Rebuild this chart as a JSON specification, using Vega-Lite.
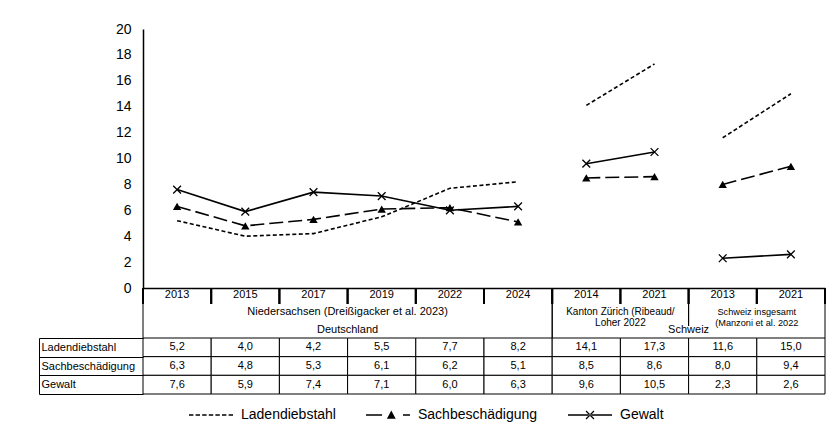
{
  "$schema": "https://vega.github.io/schema/vega-lite/v6.json",
  "padding": {"left": 38, "top": 22, "right": 5, "bottom": 5},
  "background": "white",
  "config": {
    "font": "Liberation Sans",
    "view": {"stroke": null},
    "locale": {"number": {"decimal": ",", "thousands": ".", "grouping": [3], "currency": ["", " €"]}}
  },
  "datasets": {
    "cols": [
      {"col": "Niedersachsen 2013", "year": "2013"},
      {"col": "Niedersachsen 2015", "year": "2015"},
      {"col": "Niedersachsen 2017", "year": "2017"},
      {"col": "Niedersachsen 2019", "year": "2019"},
      {"col": "Niedersachsen 2022", "year": "2022"},
      {"col": "Niedersachsen 2024", "year": "2024"},
      {"col": "Zürich 2014", "year": "2014"},
      {"col": "Zürich 2021", "year": "2021"},
      {"col": "Schweiz 2013", "year": "2013"},
      {"col": "Schweiz 2021", "year": "2021"}
    ],
    "vals": [
      {"col": "Niedersachsen 2013", "grp": "Niedersachsen", "series": "Ladendiebstahl", "value": 5.2},
      {"col": "Niedersachsen 2015", "grp": "Niedersachsen", "series": "Ladendiebstahl", "value": 4.0},
      {"col": "Niedersachsen 2017", "grp": "Niedersachsen", "series": "Ladendiebstahl", "value": 4.2},
      {"col": "Niedersachsen 2019", "grp": "Niedersachsen", "series": "Ladendiebstahl", "value": 5.5},
      {"col": "Niedersachsen 2022", "grp": "Niedersachsen", "series": "Ladendiebstahl", "value": 7.7},
      {"col": "Niedersachsen 2024", "grp": "Niedersachsen", "series": "Ladendiebstahl", "value": 8.2},
      {"col": "Zürich 2014", "grp": "Zürich", "series": "Ladendiebstahl", "value": 14.1},
      {"col": "Zürich 2021", "grp": "Zürich", "series": "Ladendiebstahl", "value": 17.3},
      {"col": "Schweiz 2013", "grp": "Schweiz", "series": "Ladendiebstahl", "value": 11.6},
      {"col": "Schweiz 2021", "grp": "Schweiz", "series": "Ladendiebstahl", "value": 15.0},
      {"col": "Niedersachsen 2013", "grp": "Niedersachsen", "series": "Sachbeschädigung", "value": 6.3},
      {"col": "Niedersachsen 2015", "grp": "Niedersachsen", "series": "Sachbeschädigung", "value": 4.8},
      {"col": "Niedersachsen 2017", "grp": "Niedersachsen", "series": "Sachbeschädigung", "value": 5.3},
      {"col": "Niedersachsen 2019", "grp": "Niedersachsen", "series": "Sachbeschädigung", "value": 6.1},
      {"col": "Niedersachsen 2022", "grp": "Niedersachsen", "series": "Sachbeschädigung", "value": 6.2},
      {"col": "Niedersachsen 2024", "grp": "Niedersachsen", "series": "Sachbeschädigung", "value": 5.1},
      {"col": "Zürich 2014", "grp": "Zürich", "series": "Sachbeschädigung", "value": 8.5},
      {"col": "Zürich 2021", "grp": "Zürich", "series": "Sachbeschädigung", "value": 8.6},
      {"col": "Schweiz 2013", "grp": "Schweiz", "series": "Sachbeschädigung", "value": 8.0},
      {"col": "Schweiz 2021", "grp": "Schweiz", "series": "Sachbeschädigung", "value": 9.4},
      {"col": "Niedersachsen 2013", "grp": "Niedersachsen", "series": "Gewalt", "value": 7.6},
      {"col": "Niedersachsen 2015", "grp": "Niedersachsen", "series": "Gewalt", "value": 5.9},
      {"col": "Niedersachsen 2017", "grp": "Niedersachsen", "series": "Gewalt", "value": 7.4},
      {"col": "Niedersachsen 2019", "grp": "Niedersachsen", "series": "Gewalt", "value": 7.1},
      {"col": "Niedersachsen 2022", "grp": "Niedersachsen", "series": "Gewalt", "value": 6.0},
      {"col": "Niedersachsen 2024", "grp": "Niedersachsen", "series": "Gewalt", "value": 6.3},
      {"col": "Zürich 2014", "grp": "Zürich", "series": "Gewalt", "value": 9.6},
      {"col": "Zürich 2021", "grp": "Zürich", "series": "Gewalt", "value": 10.5},
      {"col": "Schweiz 2013", "grp": "Schweiz", "series": "Gewalt", "value": 2.3},
      {"col": "Schweiz 2021", "grp": "Schweiz", "series": "Gewalt", "value": 2.6}
    ],
    "groups": [
      {"grp": "Niedersachsen", "first": "Niedersachsen 2013", "last": "Niedersachsen 2024"},
      {"grp": "Zürich", "first": "Zürich 2014", "last": "Zürich 2021"},
      {"grp": "Schweiz", "first": "Schweiz 2013", "last": "Schweiz 2021"}
    ],
    "countries": [
      {"country": "Deutschland", "first": "Niedersachsen 2013", "last": "Niedersachsen 2024", "anchor": "Niedersachsen 2019"},
      {"country": "Schweiz", "first": "Zürich 2014", "last": "Schweiz 2021", "anchor": "Schweiz 2013"}
    ],
    "grouplabels": [
      {"grp": "Niedersachsen", "anchor": "Niedersachsen 2019", "line": "1", "text": "Niedersachsen (Dreißigacker et al. 2023)"},
      {"grp": "Zürich", "anchor": "Zürich 2021", "line": "1", "text": "Kanton Zürich (Ribeaud/"},
      {"grp": "Zürich", "anchor": "Zürich 2021", "line": "2", "text": "Loher 2022"},
      {"grp": "Schweiz", "anchor": "Schweiz 2021", "line": "1", "text": "Schweiz insgesamt"},
      {"grp": "Schweiz", "anchor": "Schweiz 2021", "line": "2", "text": "(Manzoni et al. 2022"}
    ]
  },
  "spacing": 0,
  "bounds": "flush",
  "resolve": {"scale": {"shape": "independent"}, "legend": {"shape": "independent"}},
  "vconcat": [
    {
      "width": 682,
      "height": 259,
      "data": {"name": "vals"},
      "encoding": {
        "x": {"field": "col", "type": "nominal", "scale": {"type": "band", "padding": 0, "domain": ["Niedersachsen 2013", "Niedersachsen 2015", "Niedersachsen 2017", "Niedersachsen 2019", "Niedersachsen 2022", "Niedersachsen 2024", "Zürich 2014", "Zürich 2021", "Schweiz 2013", "Schweiz 2021"]}, "axis": {"labels": false, "ticks": false, "domain": true, "domainColor": "black", "domainWidth": 1.5, "title": null, "grid": false}},
        "y": {"field": "value", "type": "quantitative", "scale": {"domain": [0, 20], "nice": false}, "axis": {"values": [0, 2, 4, 6, 8, 10, 12, 14, 16, 18, 20], "format": "d", "title": null, "grid": false, "ticks": false, "labelPadding": 12, "labelFontSize": 14, "labelColor": "black", "domainColor": "black", "domainWidth": 1.5}}
      },
      "layer": [
        {"transform": [{"filter": "datum.series === 'Ladendiebstahl'"}], "mark": {"type": "line", "color": "black", "strokeWidth": 1.6, "strokeDash": [4, 2.5]}, "encoding": {"detail": {"field": "grp"}}},
        {"transform": [{"filter": "datum.series === 'Sachbeschädigung'"}], "mark": {"type": "line", "color": "black", "strokeWidth": 1.6, "strokeDash": [14, 5]}, "encoding": {"detail": {"field": "grp"}}},
        {"transform": [{"filter": "datum.series === 'Gewalt'"}], "mark": {"type": "line", "color": "black", "strokeWidth": 1.6}, "encoding": {"detail": {"field": "grp"}}},
        {"transform": [{"filter": "datum.series === 'Sachbeschädigung'"}], "mark": {"type": "point", "shape": "triangle-up", "filled": true, "size": 70, "color": "black", "opacity": 1}},
        {"transform": [{"filter": "datum.series === 'Gewalt'"}], "mark": {"type": "point", "shape": "M-1,-1L1,1M-1,1L1,-1", "filled": false, "size": 60, "color": "black", "strokeWidth": 1.3, "opacity": 1}}
      ]
    },
    {
      "width": 682,
      "height": 16,
      "data": {"name": "cols"},
      "layer": [
        {"mark": {"type": "rule", "color": "black", "strokeWidth": 2}, "encoding": {"x": {"field": "col", "type": "nominal", "bandPosition": 0, "scale": {"type": "band", "padding": 0, "domain": ["Niedersachsen 2013", "Niedersachsen 2015", "Niedersachsen 2017", "Niedersachsen 2019", "Niedersachsen 2022", "Niedersachsen 2024", "Zürich 2014", "Zürich 2021", "Schweiz 2013", "Schweiz 2021"]}, "axis": null}}},
        {"mark": {"type": "rule", "color": "black", "strokeWidth": 2}, "encoding": {"x": {"field": "col", "type": "nominal", "bandPosition": 1, "axis": null}}},
        {"mark": {"type": "text", "fontSize": 11, "color": "black", "dy": -1}, "encoding": {"x": {"field": "col", "type": "nominal", "axis": null}, "text": {"field": "year"}}}
      ]
    },
    {
      "width": 682,
      "height": 22,
      "layer": [
        {"data": {"name": "groups"}, "mark": {"type": "rule", "color": "black", "strokeWidth": 1}, "encoding": {"x": {"field": "first", "type": "nominal", "bandPosition": 0, "scale": {"type": "band", "padding": 0, "domain": ["Niedersachsen 2013", "Niedersachsen 2015", "Niedersachsen 2017", "Niedersachsen 2019", "Niedersachsen 2022", "Niedersachsen 2024", "Zürich 2014", "Zürich 2021", "Schweiz 2013", "Schweiz 2021"]}, "axis": null}}},
        {"data": {"name": "groups"}, "mark": {"type": "rule", "color": "black", "strokeWidth": 1}, "encoding": {"x": {"field": "last", "type": "nominal", "bandPosition": 1, "axis": null}}},
        {"data": {"name": "grouplabels"}, "transform": [{"filter": "datum.grp === 'Niedersachsen'"}], "mark": {"type": "text", "fontSize": 11, "color": "black", "dy": 2.5}, "encoding": {"x": {"field": "anchor", "type": "nominal", "bandPosition": 0, "axis": null}, "y": {"field": "line", "type": "ordinal", "scale": {"type": "band", "padding": 0, "domain": ["1", "2"]}, "axis": null}, "text": {"field": "text"}}},
        {"data": {"name": "grouplabels"}, "transform": [{"filter": "datum.grp === 'Zürich'"}], "mark": {"type": "text", "fontSize": 10, "color": "black", "dy": 2.5}, "encoding": {"x": {"field": "anchor", "type": "nominal", "bandPosition": 0, "axis": null}, "y": {"field": "line", "type": "ordinal", "axis": null}, "text": {"field": "text"}}},
        {"data": {"name": "grouplabels"}, "transform": [{"filter": "datum.grp === 'Schweiz'"}], "mark": {"type": "text", "fontSize": 9.2, "color": "black", "dy": 2}, "encoding": {"x": {"field": "anchor", "type": "nominal", "bandPosition": 0, "axis": null}, "y": {"field": "line", "type": "ordinal", "axis": null}, "text": {"field": "text"}}}
      ]
    },
    {
      "width": 682,
      "height": 12,
      "data": {"name": "countries"},
      "layer": [
        {"mark": {"type": "rule", "color": "black", "strokeWidth": 1}, "encoding": {"x": {"field": "first", "type": "nominal", "bandPosition": 0, "scale": {"type": "band", "padding": 0, "domain": ["Niedersachsen 2013", "Niedersachsen 2015", "Niedersachsen 2017", "Niedersachsen 2019", "Niedersachsen 2022", "Niedersachsen 2024", "Zürich 2014", "Zürich 2021", "Schweiz 2013", "Schweiz 2021"]}, "axis": null}}},
        {"mark": {"type": "rule", "color": "black", "strokeWidth": 1}, "encoding": {"x": {"field": "last", "type": "nominal", "bandPosition": 1, "axis": null}}},
        {"mark": {"type": "text", "fontSize": 11, "color": "black", "dy": -2}, "encoding": {"x": {"field": "anchor", "type": "nominal", "bandPosition": 0, "axis": null}, "text": {"field": "country"}}}
      ]
    },
    {
      "width": 682,
      "height": 56,
      "data": {"name": "vals"},
      "encoding": {
        "x": {"field": "col", "type": "nominal", "scale": {"type": "band", "padding": 0, "domain": ["Niedersachsen 2013", "Niedersachsen 2015", "Niedersachsen 2017", "Niedersachsen 2019", "Niedersachsen 2022", "Niedersachsen 2024", "Zürich 2014", "Zürich 2021", "Schweiz 2013", "Schweiz 2021"]}, "axis": null},
        "y": {"field": "series", "type": "nominal", "scale": {"type": "band", "padding": 0, "domain": ["Ladendiebstahl", "Sachbeschädigung", "Gewalt"]}, "axis": {"title": null, "orient": "left", "offset": 104, "domain": true, "domainColor": "black", "domainWidth": 1, "ticks": true, "tickBand": "extent", "tickSize": -104, "tickColor": "black", "tickWidth": 1, "labelAlign": "left", "labelPadding": 102, "labelFontSize": 11, "labelColor": "black", "grid": false}}
      },
      "layer": [
        {"mark": {"type": "rect", "fill": "white", "stroke": "black", "strokeWidth": 1}},
        {"mark": {"type": "text", "fontSize": 11, "color": "black"}, "encoding": {"text": {"field": "value", "type": "quantitative", "format": ".1f"}}},
        {
          "mark": {"type": "point", "filled": true, "opacity": 0, "size": 1936, "color": "black"},
          "encoding": {
            "shape": {
              "field": "series", "type": "nominal",
              "scale": {"domain": ["Ladendiebstahl", "Sachbeschädigung", "Gewalt"], "range": [
                "M-1,-0.035H-0.8V0.035H-1ZM-0.7,-0.035H-0.5V0.035H-0.7ZM-0.4,-0.035H-0.2V0.035H-0.4ZM-0.1,-0.035H0.1V0.035H-0.1ZM0.2,-0.035H0.4V0.035H0.2ZM0.5,-0.035H0.7V0.035H0.5ZM0.8,-0.035H1V0.035H0.8Z",
                "M-1,-0.035H-0.27V0.035H-1ZM0.68,-0.035H1V0.035H0.68ZM-0.05,0.17L0.15,-0.2L0.35,0.17Z",
                "M-1,-0.035H1V0.035H-1ZM-0.2,-0.16L0.16,0.2L0.2,0.16L-0.16,-0.2ZM-0.2,0.16L-0.16,0.2L0.2,-0.16L0.16,-0.2Z"
              ]},
              "legend": {
                "title": null, "orient": "none", "legendX": 46, "legendY": 55, "direction": "horizontal",
                "symbolSize": 1936, "symbolFillColor": "black", "symbolStrokeColor": "black", "symbolStrokeWidth": 0, "symbolOpacity": 1,
                "labelFontSize": 14, "labelColor": "black", "labelOffset": 8, "columnPadding": 30
              }
            }
          }
        }
      ]
    }
  ]
}
